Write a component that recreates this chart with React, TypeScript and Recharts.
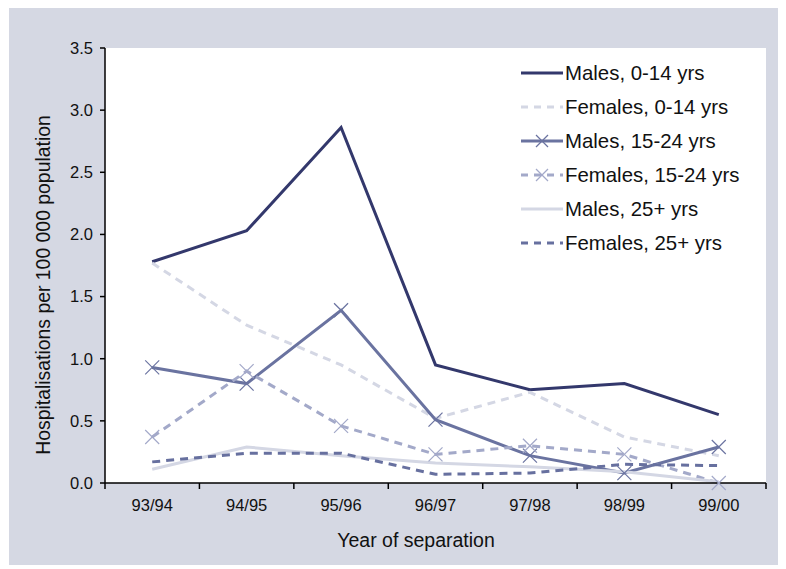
import { LineChart, Line, XAxis, YAxis, Label } from 'recharts';

const years = ['93/94', '94/95', '95/96', '96/97', '97/98', '98/99', '99/00'];
const males014 = [1.78, 2.03, 2.86, 0.95, 0.75, 0.8, 0.55];
const females014 = [1.77, 1.27, 0.95, 0.52, 0.73, 0.37, 0.22];
const males1524 = [0.93, 0.8, 1.39, 0.51, 0.22, 0.08, 0.29];
const females1524 = [0.37, 0.9, 0.46, 0.23, 0.3, 0.23, 0.0];
const males25 = [0.11, 0.29, 0.22, 0.16, 0.13, 0.09, 0.01];
const females25 = [0.17, 0.24, 0.24, 0.07, 0.08, 0.15, 0.14];
const yTicks = [0, 0.5, 1.0, 1.5, 2.0, 2.5, 3.0, 3.5];

const data = years.map((year, i) => ({
  year,
  m014: males014[i],
  f014: females014[i],
  m1524: males1524[i],
  f1524: females1524[i],
  m25: males25[i],
  f25: females25[i],
}));

const series = [
  { key: 'm014', name: 'Males, 0-14 yrs', color: '#33386c', dash: undefined, cross: false },
  { key: 'f014', name: 'Females, 0-14 yrs', color: '#d4d7e4', dash: '8 6', cross: false },
  { key: 'm1524', name: 'Males, 15-24 yrs', color: '#6a73a0', dash: undefined, cross: true },
  { key: 'f1524', name: 'Females, 15-24 yrs', color: '#a3a9c9', dash: '8 6', cross: true },
  { key: 'm25', name: 'Males, 25+ yrs', color: '#d4d7e4', dash: undefined, cross: false },
  { key: 'f25', name: 'Females, 25+ yrs', color: '#67709f', dash: '8 6', cross: false },
];

const W = 769;
const H = 560;
const M = { top: 43, right: 12, left: 0, bottom: 12 };
const Y_W = 96;
const X_H = 70;
const HALF_BAND = (W - Y_W - M.right) / years.length / 2;
const FONT = '"Liberation Sans", Arial, sans-serif';
const PANEL = '#d5d8e3';

const Cross = (color: string) => (props: any) => {
  const { cx, cy } = props;
  if (cx == null || cy == null) return null;
  const s = 7;
  return (
    <g key={`${color}-${cx}`}>
      <line x1={cx - s} y1={cy - s} x2={cx + s} y2={cy + s} stroke={color} strokeWidth={1.2} />
      <line x1={cx - s} y1={cy + s} x2={cx + s} y2={cy - s} stroke={color} strokeWidth={1.2} />
    </g>
  );
};

const XTick = (props: any) => {
  const { x, y, payload, index } = props;
  return (
    <g>
      <line x1={x - HALF_BAND} y1={y} x2={x - HALF_BAND} y2={y + 6} stroke="#000" strokeWidth={1.5} />
      {index === years.length - 1 && (
        <line x1={x + HALF_BAND} y1={y} x2={x + HALF_BAND} y2={y + 6} stroke="#000" strokeWidth={1.5} />
      )}
      <text x={x} y={y + 28} textAnchor="middle" fontSize={16.5} fill="#111" fontFamily={FONT}>
        {payload.value}
      </text>
    </g>
  );
};

const LegendBox = () => (
  <div
    style={{
      position: 'absolute',
      left: 511,
      top: 51,
      width: 245,
      whiteSpace: 'nowrap',
      zIndex: 2,
      fontFamily: FONT,
      fontSize: 20.4,
      color: '#111',
    }}
  >
    {series.map((s) => (
      <div key={s.key} style={{ display: 'flex', alignItems: 'center', height: 34 }}>
        <svg width={44} height={16} style={{ marginRight: 1, flexShrink: 0 }}>
          <line x1={1} y1={8} x2={43} y2={8} stroke={s.color} strokeWidth={3} strokeDasharray={s.dash ? '7 6' : undefined} />
          {s.cross && (
            <g>
              <line x1={16} y1={2} x2={28} y2={14} stroke={s.color} strokeWidth={1.2} />
              <line x1={16} y1={14} x2={28} y2={2} stroke={s.color} strokeWidth={1.2} />
            </g>
          )}
        </svg>
        <span>{s.name}</span>
      </div>
    ))}
  </div>
);

const YLabel = () => (
  <text x={36} y={280} transform="rotate(-90, 36, 280)" textAnchor="middle" dominantBaseline="middle" fontSize={19.4} fill="#111" fontFamily={FONT}>
    Hospitalisations per 100 000 population
  </text>
);

const XLabel = () => (
  <text x={407} y={542} textAnchor="middle" fontSize={19.5} fill="#111" fontFamily={FONT}>
    Year of separation
  </text>
);

export default function App() {
  // white plot area framed by a grey panel, drawn with borders
  return (
    <div
      style={{
        position: 'relative',
        boxSizing: 'border-box',
        width: W,
        height: H,
        background: '#ffffff',
        borderStyle: 'solid',
        borderColor: PANEL,
        borderWidth: `${M.top}px ${M.right}px ${M.bottom + X_H}px ${Y_W}px`,
        marginTop: -3,
        marginLeft: 1,
      }}
    >
      <div style={{ position: 'absolute', left: -Y_W, top: -M.top, width: W, height: H, zIndex: 1 }}>
        <LineChart width={W} height={H} data={data} margin={M}>
          <XAxis
            dataKey="year"
            height={X_H}
            tickLine={false}
            tickSize={0}
            tickMargin={0}
            tick={<XTick />}
            axisLine={{ stroke: '#000', strokeWidth: 1.5 }}
            interval={0}
            padding={{ left: HALF_BAND, right: HALF_BAND }}
          >
            <Label content={<XLabel />} />
          </XAxis>
          <YAxis
            width={Y_W}
            domain={[0, 3.5]}
            ticks={yTicks}
            tickFormatter={(v: number) => v.toFixed(1)}
            tick={{ fontSize: 16.5, fill: '#111', fontFamily: FONT }}
            tickSize={5}
            tickMargin={7}
            tickLine={{ stroke: '#000', strokeWidth: 1.5 }}
            axisLine={{ stroke: '#000', strokeWidth: 1.5 }}
          >
            <Label content={<YLabel />} />
          </YAxis>
          {series.map((s) => (
            <Line
              key={s.key}
              type="linear"
              dataKey={s.key}
              name={s.name}
              stroke={s.color}
              strokeWidth={3}
              strokeDasharray={s.dash}
              dot={s.cross ? Cross(s.color) : false}
              activeDot={false}
              isAnimationActive={false}
            />
          ))}
        </LineChart>
        <LegendBox />
      </div>
    </div>
  );
}
